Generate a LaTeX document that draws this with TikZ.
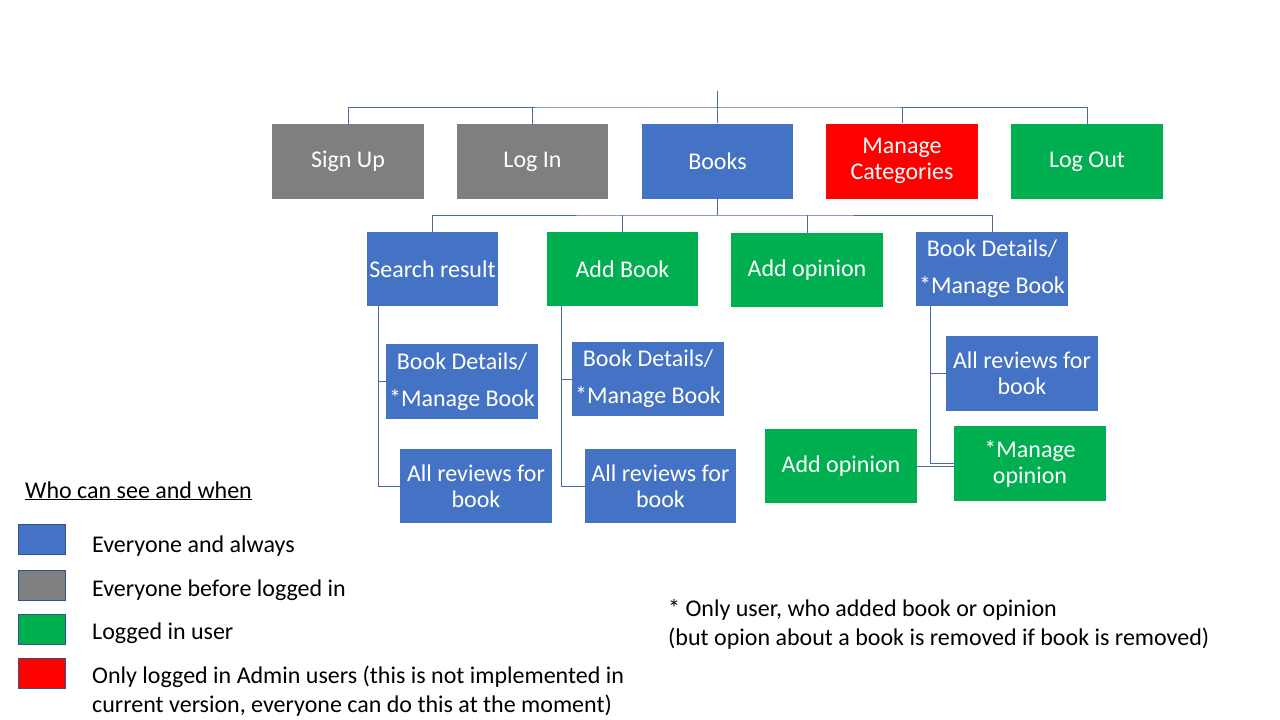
\documentclass[tikz,border=0pt]{standalone}
\usepackage{fontspec}
\setmainfont{Carlito}
\definecolor{cblue}{HTML}{4472C4}
\definecolor{cgray}{HTML}{7F7F7F}
\definecolor{cgreen}{HTML}{00B050}
\definecolor{cred}{HTML}{FF0000}
\definecolor{cline}{HTML}{4A6AA0}
\definecolor{cedge}{HTML}{2F528F}
\begin{document}
\begin{tikzpicture}[x=1pt,y=-1pt,
  bx/.style={rectangle,inner sep=0pt,minimum width=152pt,minimum height=75pt,text=white,align=center,font=\fontsize{24}{26}\selectfont},
  wide/.style={font=\fontsize{24}{37}\selectfont},
  conn/.style={draw=cline,line width=1pt},
  sw/.style={rectangle,draw=cedge,line width=1pt,minimum width=47pt,minimum height=30pt,inner sep=0pt},
  lg/.style={anchor=base west,inner sep=0pt,font=\fontsize{24}{29}\selectfont,align=left},
  lgm/.style={anchor=west,inner sep=0pt,font=\fontsize{24}{29}\selectfont,align=left}]
\useasboundingbox[fill=white] (0,0) rectangle (1280,720);
% top row
\node[bx,fill=cgray] (signup) at (348,161.5) {Sign Up};
\node[bx,fill=cgray,minimum width=151pt] (login) at (532.5,161.5) {Log In};
\node[bx,fill=cblue,minimum width=151pt] (books) at (717.5,161) {Books};
\node[bx,fill=cred] (mancat) at (902,161) {Manage\\Categories};
\node[bx,fill=cgreen] (logout) at (1087,161.5) {Log Out};
% level 2
\node[bx,fill=cblue,minimum width=131pt,minimum height=74pt] (sr) at (432.5,269) {Search result};
\node[bx,fill=cgreen,minimum width=151pt,minimum height=74pt] (ab) at (622.5,269) {Add Book};
\node[bx,fill=cgreen,minimum height=74pt] (ao) at (807,270) {Add opinion};
\node[bx,wide,fill=cblue,minimum height=74pt] (bd) at (992,269) {Book Details/\\*Manage Book};
% level 3
\node[bx,wide,fill=cblue] (bda) at (462,381.5) {Book Details/\\*Manage Book};
\node[bx,fill=cblue,minimum height=74pt] (rva) at (476,486) {All reviews for\\book};
\node[bx,wide,fill=cblue,minimum height=74pt] (bdb) at (648,379) {Book Details/\\*Manage Book};
\node[bx,fill=cblue,minimum width=151pt,minimum height=74pt] (rvb) at (660.5,486) {All reviews for\\book};
\node[bx,fill=cblue] (rvc) at (1022,373.5) {All reviews for\\book};
\node[bx,fill=cgreen,minimum height=74pt] (aoc) at (841,466) {Add opinion};
\node[bx,fill=cgreen] (moc) at (1030,463.5) {*Manage\\opinion};
% connectors top
\coordinate (top) at (717.5,91);
\coordinate (bus) at (717.5,107);
\draw[conn] (top) -- (books.north);
\draw[conn] (signup.north) |- (bus) -| (logout.north);
\draw[conn] (login.north) -- (login.north |- bus);
\draw[conn] (mancat.north) -- (mancat.north |- bus);
% connectors level 2
\coordinate (bus2) at (717.5,215);
\draw[conn] (books.south) -- (bus2);
\draw[conn] (sr.north) |- (bus2) -| (bd.north);
\draw[conn] (ab.north) -- (ab.north |- bus2);
\draw[conn] (ao.north) -- (ao.north |- bus2);
% connectors level 3
\draw[conn] ([xshift=12pt]sr.south west) |- (rva.west);
\draw[conn] ([xshift=12pt]sr.south west) |- (bda.west);
\draw[conn] ([xshift=15pt]ab.south west) |- (rvb.west);
\draw[conn] ([xshift=15pt]ab.south west) |- (bdb.west);
\draw[conn] ([xshift=15pt]bd.south west) |- (moc.west);
\draw[conn] ([xshift=15pt]bd.south west) |- (rvc.west);
\draw[conn] (aoc.east) -- (aoc.east -| moc.west);
% legend
\node[lg] (lt) at (25,498) {\underline{Who can see and when}};
\node[sw,fill=cblue] (s1) at (41.5,539) {};
\node[sw,fill=cgray] (s2) at (41.5,585.5) {};
\node[sw,fill=cgreen] (s3) at (41.5,629) {};
\node[sw,fill=cred] (s4) at (41.5,673.5) {};
\node[lg] (l1) at (92,552) {Everyone and always};
\node[lg] (l2) at (92,596) {Everyone before logged in};
\node[lg] (l3) at (92,639) {Logged in user};
\node[lgm] (l4) at (92,691) {Only logged in Admin users (this is not implemented in\\current version, everyone can do this at the moment)};
% note
\node[lgm] (note) at (668,624) {* Only user, who added book or opinion\\(but opion about a book is removed if book is removed)};
\end{tikzpicture}
\end{document}
